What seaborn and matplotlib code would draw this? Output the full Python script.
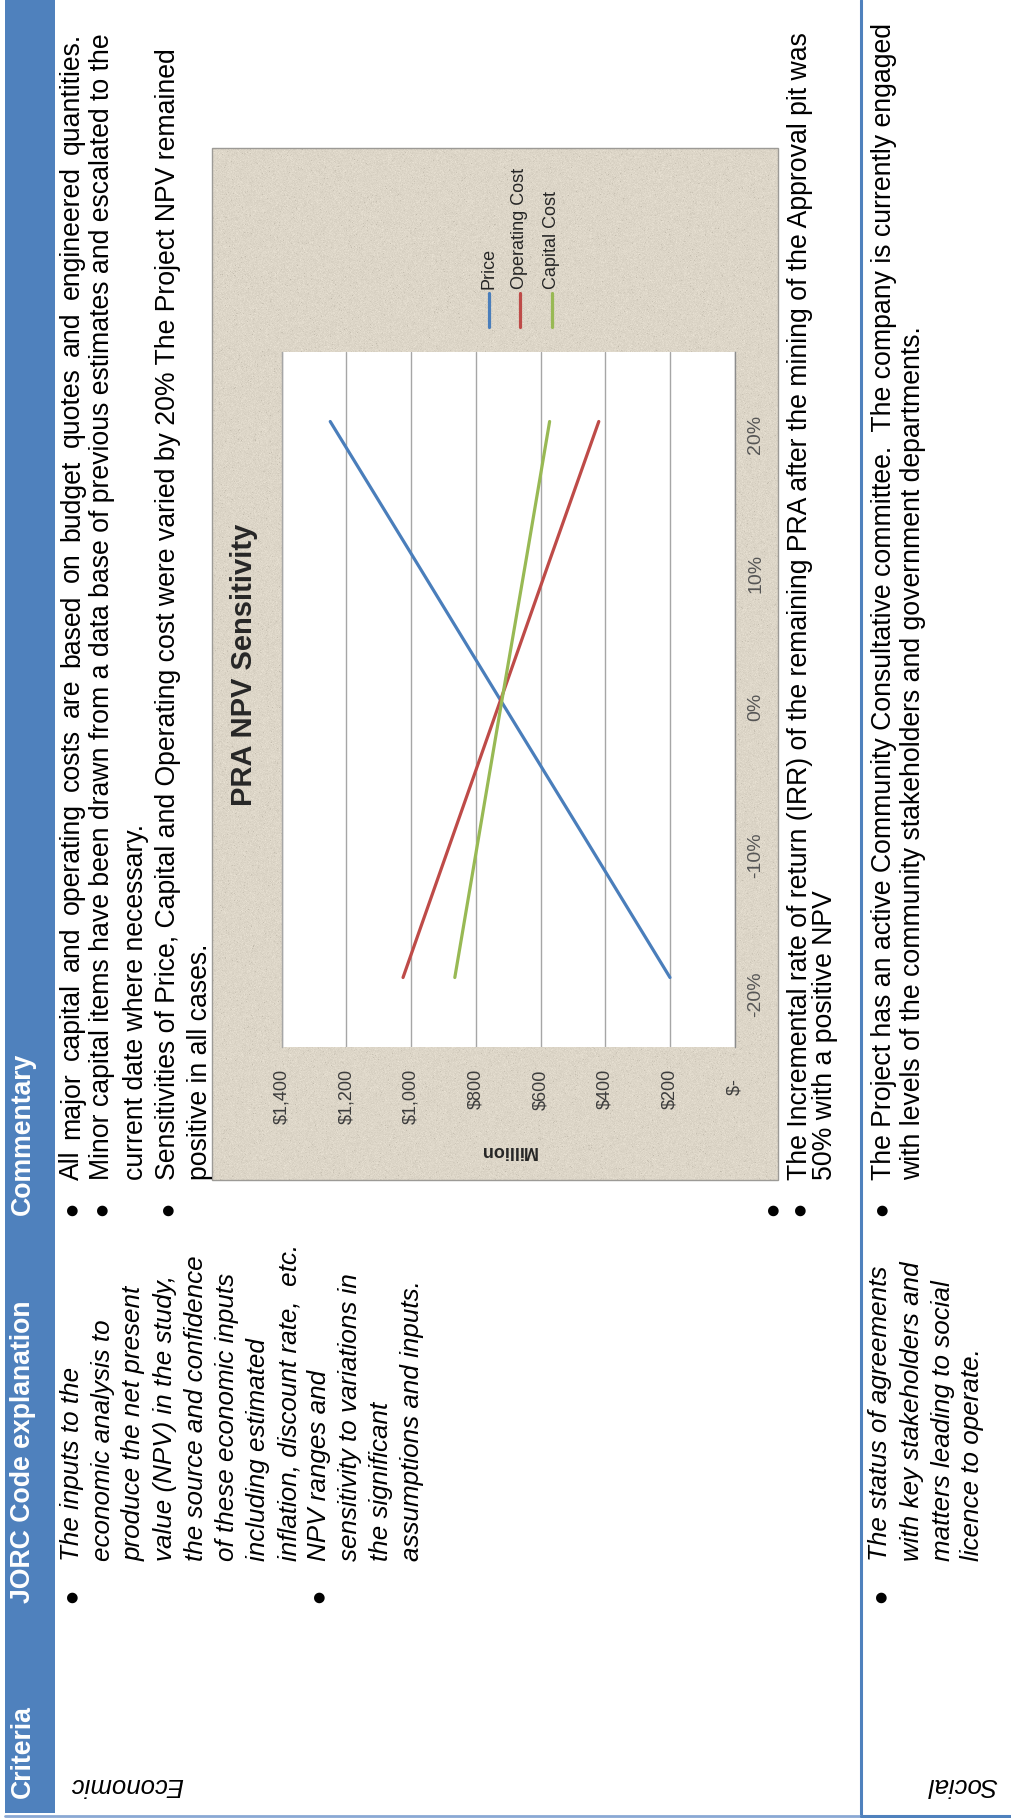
import matplotlib
matplotlib.use("Agg")
import matplotlib.pyplot as plt
from matplotlib.patches import Rectangle
from matplotlib.lines import Line2D
import numpy as np
import pandas as pd
import seaborn as sns

# ---- NPV sensitivity data ($ million) ----
variation_pct = [-20, -10, 0, 10, 20]
npv_price = [200, 462, 725, 987, 1250]
npv_operating = [1025, 874, 723, 572, 420]
npv_capital = [865, 792, 719, 645, 572]
series_names = ["Price", "Operating Cost", "Capital Cost"]
series_colors = ["#4A7EBB", "#BE4B48", "#98B954"]
npv_ticks = [1400, 1200, 1000, 800, 600, 400, 200, 0]
npv_tick_labels = ["$1,400", "$1,200", "$1,000", "$800", "$600", "$400", "$200", "$-  "]
pct_tick_labels = ["-20%", "-10%", "0%", "10%", "20%"]
chart_title = "PRA NPV Sensitivity"
value_axis_title = "Million"

# ---- table text ----
header_labels = ["Criteria", "JORC Code explanation", "Commentary"]
row_labels = ["Economic", "Social"]
economic_explanation = [
    "The inputs to the", "economic analysis to", "produce the net present",
    "value (NPV) in the study,", "the source and confidence", "of these economic inputs",
    "including estimated", "inflation, discount rate,  etc.", "NPV ranges and",
    "sensitivity to variations in", "the significant", "assumptions and inputs.",
]
economic_commentary_top = [
    "All major capital and operating costs are based on budget quotes and engineered quantities.",
    "Minor capital items have been drawn from a data base of previous estimates and escalated to the",
    "current date where necessary.",
    "Sensitivities of Price, Capital and Operating cost were varied by 20% The Project NPV remained",
    "positive in all cases.",
]
economic_commentary_bottom = [
    "The Incremental rate of return (IRR) of the remaining PRA after the mining of the Approval pit was",
    "50% with a positive NPV",
]
social_explanation = [
    "The status of agreements", "with key stakeholders and",
    "matters leading to social", "licence to operate.",
]
social_commentary = [
    "The Project has an active Community Consultative committee.  The company is currently engaged",
    "with levels of the community stakeholders and government departments.",
]

sns.set_theme(style="white")
plt.rcParams["font.family"] = ["Liberation Sans", "DejaVu Sans"]

W, H = 1011, 1818
fig = plt.figure(figsize=(W / 100, H / 100), dpi=100)
fig.patch.set_facecolor("white")
renderer = fig.canvas.get_renderer()

BODY = 19.2      # commentary text size
EXPL = 18.7      # italic explanation text size
HEAD = 19.2      # header size


def fx(x):
    return x / W


def fy(y):
    return 1 - y / H


def page_text(x, y, s, size=BODY, style="normal", weight="normal", color="black",
              rot=90, ha="left", va="center", family=None):
    kw = {}
    if family is not None:
        kw["family"] = family
    return fig.text(fx(x), fy(y), s, rotation=rot, rotation_mode="anchor", ha=ha,
                    va=va, fontsize=size, fontstyle=style, fontweight=weight,
                    color=color, **kw)


def justified_line(x, y_start, y_end, s, size=BODY):
    """Spread the words of one line evenly between y_start and y_end."""
    words = s.split()
    widths = []
    for w in words:
        t = fig.text(0, 0, w, fontsize=size)
        widths.append(t.get_window_extent(renderer).width)
        t.remove()
    gap = ((y_start - y_end) - sum(widths)) / (len(words) - 1)
    pos = y_start
    for w, wd in zip(words, widths):
        page_text(x, pos, w, size=size)
        pos -= wd + gap


def bullet(x, y):
    page_text(x, y, "\u25CF", size=10, ha="center", va="center",
              family=["DejaVu Sans"])


BLUE = "#4F81BD"

# header band
fig.add_artist(Rectangle((fx(5), fy(1813)), 50 / W, 1813 / H,
                         transform=fig.transFigure, facecolor=BLUE,
                         edgecolor="none", zorder=0))
# row divider and bottom rule
fig.add_artist(Line2D([fx(861), fx(861)], [fy(0), fy(1818)],
                      transform=fig.transFigure, color=BLUE, lw=2.2))
fig.add_artist(Line2D([fx(5), fx(861)], [fy(1815.5), fy(1815.5)],
                      transform=fig.transFigure, color="#8AA8D4", lw=2.0))
fig.add_artist(Line2D([fx(861), fx(1011)], [fy(1815.5), fy(1815.5)],
                      transform=fig.transFigure, color=BLUE, lw=2.2))

# header labels
for label, start in zip(header_labels, [1798, 1603, 1215]):
    page_text(23, start, label, size=HEAD, weight="bold", color="white")

# criteria labels (upside down)
page_text(183, 1785, row_labels[0], size=18.5, style="italic", rot=180)
page_text(997, 1785, row_labels[1], size=18.5, style="italic", rot=180)

# JORC explanation, economic row
econ_lines_x = [72, 103, 134, 165, 196, 227, 258, 289, 319, 350, 381, 412]
for x, s in zip(econ_lines_x, economic_explanation):
    page_text(x, 1561, s, size=EXPL, style="italic")
bullet(72, 1597)
bullet(319, 1597)

# commentary, economic row
top_lines_x = [72, 102, 136, 168, 200]
justified_line(top_lines_x[0], 1180, 33, economic_commentary_top[0])
for x, s in zip(top_lines_x[1:], economic_commentary_top[1:]):
    page_text(x, 1180, s)
for x in [72, 102, 168]:
    bullet(x, 1210)

bullet(773, 1210)
bottom_lines_x = [800, 825]
for x, s in zip(bottom_lines_x, economic_commentary_bottom):
    page_text(x, 1180, s)
bullet(800, 1210)

# social row
soc_expl_x = [880, 912, 943, 972]
for x, s in zip(soc_expl_x, social_explanation):
    page_text(x, 1561, s, size=EXPL, style="italic")
bullet(881, 1597)
soc_comm_x = [884, 913]
for x, s in zip(soc_comm_x, social_commentary):
    page_text(x, 1180, s)
bullet(882, 1210)

# ---- embedded sensitivity chart ----
# granite-style chart area fill
frame_l, frame_r, frame_t, frame_b = 212, 778, 148, 1180
tex_h, tex_w = frame_b - frame_t, frame_r - frame_l
rng = np.random.default_rng(11)
base = np.array([221, 214, 200], dtype=float) / 255.0
grain = rng.normal(0.0, 0.016, (tex_h, tex_w, 1))
specks = (rng.random((tex_h, tex_w, 1)) < 0.012) * -0.07
texture = np.clip(base + grain + specks, 0, 1)
bg_ax = fig.add_axes([fx(frame_l), fy(frame_b), tex_w / W, tex_h / H])
bg_ax.set_zorder(-1)
bg_ax.imshow(texture, aspect="auto", interpolation="bilinear")
bg_ax.set_axis_off()
fig.add_artist(Rectangle((fx(frame_l), fy(frame_b)), tex_w / W, tex_h / H,
                         transform=fig.transFigure, facecolor="none",
                         edgecolor="#9C9A96", lw=1.0, zorder=0.5))

ax = fig.add_axes([fx(281.7), fy(1047), (734.7 - 281.7) / W, (1047 - 352) / H])
ax.set_zorder(1)
ax.set_facecolor("white")

long_df = pd.DataFrame({
    "pct": variation_pct * 3,
    "npv": npv_price + npv_operating + npv_capital,
    "series": [series_names[0]] * 5 + [series_names[1]] * 5 + [series_names[2]] * 5,
})
sns.lineplot(data=long_df, x="npv", y="pct", hue="series", hue_order=series_names,
             palette=series_colors, orient="y", errorbar=None, legend=False,
             linewidth=2.3, ax=ax)

ax.set_xlim(1400, 0)
ax.set_ylim(-25, 25)
ax.set_xlabel("")
ax.set_ylabel("")
ax.set_xticks(npv_ticks)
ax.set_xticklabels(npv_tick_labels, rotation=90, fontsize=13, color="#3C3C3C")
ax.set_yticks(variation_pct)
ax.yaxis.tick_right()
ax.set_yticklabels(pct_tick_labels, rotation=90, fontsize=14, color="#555555")
ax.tick_params(axis="x", length=0, pad=16)
ax.tick_params(axis="y", length=0, pad=9, labelright=True, labelleft=False)
ax.xaxis.grid(True, color="#A6A6A6", lw=1.0)
ax.yaxis.grid(False)
ax.set_axisbelow(True)
for side in ["top", "bottom"]:
    ax.spines[side].set_visible(False)
ax.spines["left"].set_color("#A6A6A6")
ax.spines["left"].set_linewidth(1.0)
ax.spines["right"].set_color("#8C8C8C")
ax.spines["right"].set_linewidth(1.0)

# chart title and value-axis title
page_text(244, 665, chart_title, size=21, weight="bold", color="#262626",
          ha="center", va="center")
page_text(508, 1150, value_axis_title, size=13, weight="bold", color="#262626",
          rot=180, ha="center", va="center")

# legend
for lx, name, col in zip([489, 520, 552], series_names, series_colors):
    fig.add_artist(Line2D([fx(lx), fx(lx)], [fy(327), fy(293)],
                          transform=fig.transFigure, color=col, lw=2.3))
    page_text(lx, 289, name, size=13, color="#262626")

fig.savefig("out.png", dpi=100, facecolor="white")
